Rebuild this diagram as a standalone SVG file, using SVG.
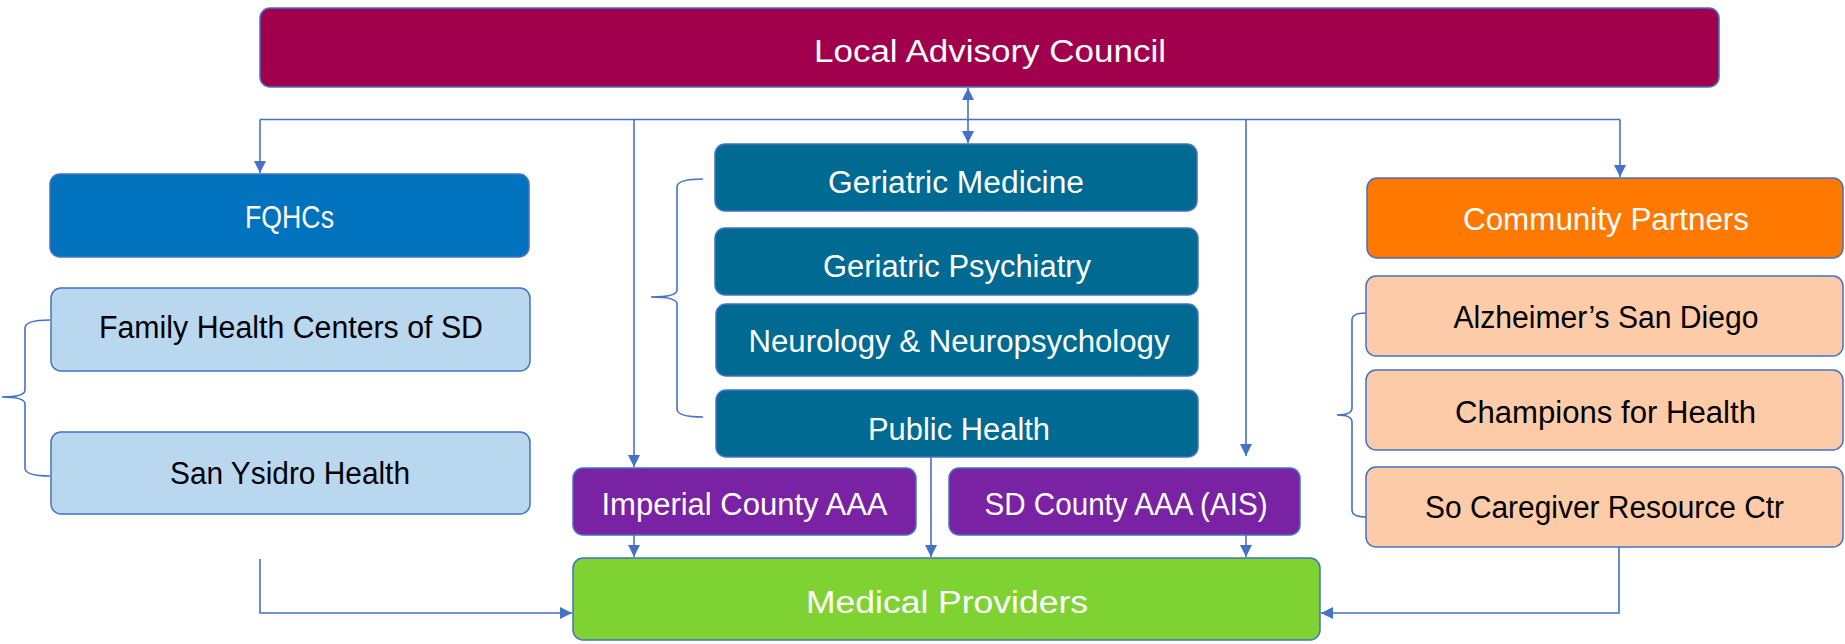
<svg xmlns="http://www.w3.org/2000/svg" width="1845" height="644" viewBox="0 0 1845 644">
<style>
.box{stroke:#4472C4;stroke-width:1.5}
.t{font-family:"Liberation Sans",Arial,sans-serif;text-anchor:middle;font-size:31px}
.w{fill:#FFFFFF}
.k{fill:#000000}
.c{fill:none;stroke:#4472C4;stroke-width:1.6}
</style>
<defs>
<marker id="ah" viewBox="0 0 10 10" refX="10" refY="5" markerWidth="12" markerHeight="12" markerUnits="userSpaceOnUse" orient="auto-start-reverse">
<path d="M0,0 L10,5 L0,10 z" fill="#4472C4"/>
</marker>
</defs>
<rect width="1845" height="644" fill="#FFFFFF"/>

<g id="connectors">
<line class="c" x1="968" y1="88" x2="968" y2="143" marker-start="url(#ah)" marker-end="url(#ah)"/>
<line class="c" x1="260" y1="119.5" x2="1620" y2="119.5"/>
<line class="c" x1="260" y1="119.5" x2="260" y2="173" marker-end="url(#ah)"/>
<line class="c" x1="1620" y1="119.5" x2="1620" y2="177" marker-end="url(#ah)"/>
<line class="c" x1="634" y1="119.5" x2="634" y2="467" marker-end="url(#ah)"/>
<line class="c" x1="1246" y1="119.5" x2="1246" y2="456" marker-end="url(#ah)"/>
<line class="c" x1="634" y1="535" x2="634" y2="557" marker-end="url(#ah)"/>
<line class="c" x1="931" y1="457" x2="931" y2="557" marker-end="url(#ah)"/>
<line class="c" x1="1246" y1="535" x2="1246" y2="557" marker-end="url(#ah)"/>
<polyline class="c" points="260,559 260,613 572,613" marker-end="url(#ah)"/>
<polyline class="c" points="1619,547 1619,613 1321,613" marker-end="url(#ah)"/>
<path class="c" d="M50,320 Q25,320 25,328 L25,390 Q25,397 2,397 Q25,397 25,404 L25,468 Q25,476 50,476"/>
<path class="c" d="M703,179 Q677,179 677,187 L677,290 Q677,297 651,297 Q677,297 677,304 L677,409 Q677,417 703,417"/>
<path class="c" d="M1366,313 Q1352,313 1352,320 L1352,408 Q1352,415 1337,415 Q1352,415 1352,422 L1352,510 Q1352,517 1366,517"/>
</g>

<g id="lac"><rect class="box" x="260" y="8" width="1459" height="79" rx="10" fill="#A1004C"/><text class="t w" x="990" y="62" font-size="37" textLength="352" lengthAdjust="spacingAndGlyphs">Local Advisory Council</text></g>

<g id="fqhcs"><rect class="box" x="50" y="174" width="479" height="83" rx="10" fill="#0072BE"/><text class="t w" x="289.5" y="228" textLength="89" lengthAdjust="spacingAndGlyphs">FQHCs</text></g>
<g id="fhc"><rect class="box" x="51" y="288" width="479" height="83" rx="10" fill="#B9D8F0"/><text class="t k" x="291" y="338" textLength="384" lengthAdjust="spacingAndGlyphs">Family Health Centers of SD</text></g>
<g id="syh"><rect class="box" x="51" y="432" width="479" height="82" rx="10" fill="#B9D8F0"/><text class="t k" x="290" y="484" textLength="240" lengthAdjust="spacingAndGlyphs">San Ysidro Health</text></g>

<g id="gm"><rect class="box" x="715" y="144" width="482" height="67" rx="10" fill="#006A92"/><text class="t w" x="956" y="193" textLength="256" lengthAdjust="spacingAndGlyphs">Geriatric Medicine</text></g>
<g id="gp"><rect class="box" x="715" y="228" width="483" height="67" rx="10" fill="#006A92"/><text class="t w" x="957" y="277" textLength="268" lengthAdjust="spacingAndGlyphs">Geriatric Psychiatry</text></g>
<g id="neuro"><rect class="box" x="716" y="304" width="482" height="72" rx="10" fill="#006A92"/><text class="t w" x="959" y="352" textLength="421" lengthAdjust="spacingAndGlyphs">Neurology &amp; Neuropsychology</text></g>
<g id="ph"><rect class="box" x="716" y="390" width="482" height="67" rx="10" fill="#006A92"/><text class="t w" x="959" y="440" textLength="182" lengthAdjust="spacingAndGlyphs">Public Health</text></g>

<g id="imperial"><rect class="box" x="573" y="468" width="343" height="67" rx="10" fill="#7A22A4"/><text class="t w" x="744.5" y="515" textLength="286" lengthAdjust="spacingAndGlyphs">Imperial County AAA</text></g>
<g id="sdcounty"><rect class="box" x="949" y="468" width="351" height="67" rx="10" fill="#7A22A4"/><text class="t w" x="1126" y="515" textLength="283" lengthAdjust="spacingAndGlyphs">SD County AAA (AIS)</text></g>

<g id="medical"><rect class="box" x="573" y="558" width="747" height="82" rx="10" fill="#7ED332"/><text class="t w" x="947" y="613" font-size="37" textLength="282" lengthAdjust="spacingAndGlyphs">Medical Providers</text></g>

<g id="cp"><rect class="box" x="1367" y="178" width="476" height="80" rx="10" fill="#FF7800"/><text class="t w" x="1606" y="230" textLength="286" lengthAdjust="spacingAndGlyphs">Community Partners</text></g>
<g id="alz"><rect class="box" x="1366" y="276" width="477" height="80" rx="10" fill="#FDCBA8"/><text class="t k" x="1606" y="328" textLength="305" lengthAdjust="spacingAndGlyphs">Alzheimer’s San Diego</text></g>
<g id="champ"><rect class="box" x="1366" y="370" width="477" height="80" rx="10" fill="#FDCBA8"/><text class="t k" x="1605.5" y="423" textLength="301" lengthAdjust="spacingAndGlyphs">Champions for Health</text></g>
<g id="socare"><rect class="box" x="1366" y="467" width="477" height="80" rx="10" fill="#FDCBA8"/><text class="t k" x="1604.5" y="518" textLength="359" lengthAdjust="spacingAndGlyphs">So Caregiver Resource Ctr</text></g>
</svg>
